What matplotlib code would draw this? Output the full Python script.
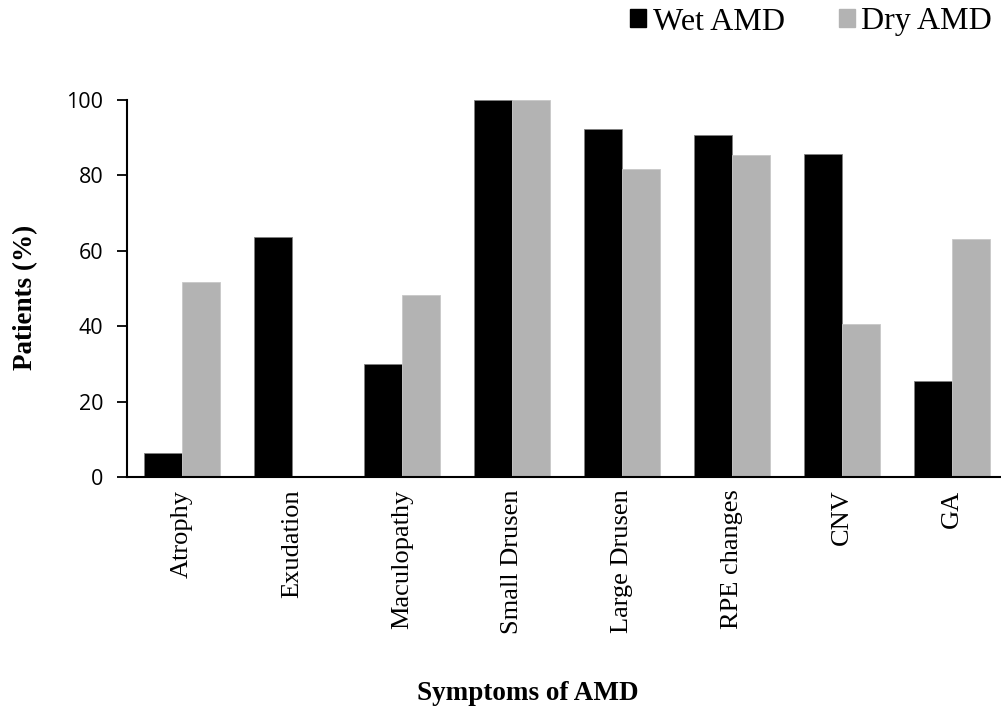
import numpy as np
import matplotlib.pyplot as plt
from matplotlib.patches import Patch

categories = ['Atrophy', 'Exudation', 'Maculopathy', 'Small Drusen',
              'Large Drusen', 'RPE changes', 'CNV', 'GA']
wet_amd = [6.3, 63.6, 30.0, 100.0, 92.2, 90.6, 85.8, 25.4]
dry_amd = [51.8, 0.0, 48.2, 100.0, 81.6, 85.3, 40.6, 63.0]
yticks = [0, 20, 40, 60, 80, 100]

W, H = 1001, 719
fig = plt.figure(figsize=(W / 100, H / 100), dpi=100)
ax = fig.add_axes([127 / W, 1 - 477 / H, 880 / W, 377 / H])

x = np.arange(len(categories))
bw = 0.345
ax.bar(x - bw / 2, wet_amd, bw, color='black', edgecolor='#808080', linewidth=0.6)
ax.bar(x + bw / 2, dry_amd, bw, color='#b3b3b3', edgecolor='#c8c8c8', linewidth=0.6)

ax.set_xlim(-0.5, len(categories) - 0.5)
ax.set_ylim(0, 100)
ax.set_yticks(yticks)
ax.set_yticklabels([str(v) for v in yticks], family='Open Sans', fontsize=15.5)
ax.set_xticks(x)
ax.set_xticklabels(categories, rotation=90, family='Liberation Serif', fontsize=19)
ax.tick_params(axis='x', length=0, pad=9)
ax.tick_params(axis='y', length=7, width=1.3, direction='out', pad=10)
for s in ['top', 'right']:
    ax.spines[s].set_visible(False)
for s in ['left', 'bottom']:
    ax.spines[s].set_linewidth(1.5)

fig.text(26 / W, 1 - 297 / H, 'Patients (%)', rotation=90, ha='center', va='center',
         family='Liberation Serif', fontweight='bold', fontsize=19.5)
fig.text(528 / W, 1 - 693 / H, 'Symptoms of AMD', ha='center', va='center',
         family='Liberation Serif', fontweight='bold', fontsize=19.5)

handles = [Patch(facecolor='black', edgecolor='black', label='Wet AMD'),
           Patch(facecolor='#b3b3b3', edgecolor='#b3b3b3', label='Dry AMD')]
fig.legend(handles=handles, loc='center right', bbox_to_anchor=(992 / W, 1 - 22 / H),
           ncol=2, frameon=False, prop={'family': 'Liberation Serif', 'size': 23},
           handlelength=0.5, handleheight=0.5, handletextpad=0.2,
           columnspacing=1.7, borderaxespad=0, borderpad=0)

fig.savefig('out.png', dpi=100)
